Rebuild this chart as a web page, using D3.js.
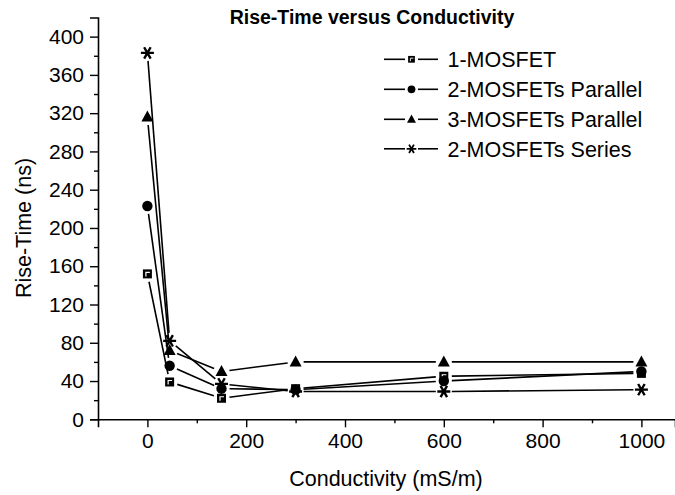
<!DOCTYPE html>
<html><head><meta charset="utf-8">
<script src="https://cdn.jsdelivr.net/npm/d3@7"></script>
<style>body{margin:0;background:#fff}svg{display:block}text{font-family:"Liberation Sans",Arial,sans-serif;fill:#000}</style>
</head><body>
<script>
const conductivity = [0, 45, 150, 300, 600, 1000];
const oneMosfet = [152, 39, 22, 32, 45, 48];
const twoParallel = [223, 56, 32, 31, 40, 50];
const threeParallel = [316, 72, 50, 60, 60, 60];
const twoSeries = [383, 82, 37, 29, 29, 31];
const seriesNames = ["1-MOSFET", "2-MOSFETs Parallel", "3-MOSFETs Parallel", "2-MOSFETs Series"];
const markerTypes = ["square", "circle", "triangle", "star"];
const xTicks = [0, 200, 400, 600, 800, 1000];
const yTicks = [0, 40, 80, 120, 160, 200, 240, 280, 320, 360, 400];

const W = 675, H = 495;
const svg = d3.select("body").append("svg").attr("width", W).attr("height", H);
const x = d3.scaleLinear().domain([-100, 1068]).range([98, 675]);
const y = d3.scaleLinear().domain([0, 420]).range([419.3, 17.5]);

// axes
const xAxis = svg.append("g").attr("transform", `translate(0,${y(0)})`)
  .call(d3.axisBottom(x).tickValues(xTicks).tickSize(8).tickPadding(6).tickFormat(d3.format("d")));
const xMinor = svg.append("g").attr("transform", `translate(0,${y(0)})`)
  .call(d3.axisBottom(x).tickValues(d3.range(100, 1000, 200)).tickSize(4).tickFormat(""));
const yAxis = svg.append("g").attr("transform", `translate(${x(-100)},0)`)
  .call(d3.axisLeft(y).tickValues(yTicks).tickSize(8).tickPadding(6).tickFormat(d3.format("d")));
const yMinor = svg.append("g").attr("transform", `translate(${x(-100)},0)`)
  .call(d3.axisLeft(y).tickValues(d3.range(20, 400, 40)).tickSize(4).tickFormat(""));
[xAxis, xMinor, yAxis, yMinor].forEach(g => {
  g.selectAll("path.domain").attr("stroke", "#000").attr("stroke-width", 1.6);
  g.selectAll(".tick line").attr("stroke", "#000").attr("stroke-width", 1.4);
  g.selectAll(".tick text").attr("font-size", 21).attr("font-family", "Liberation Sans, Arial, sans-serif").attr("fill", "#000");
});
xMinor.select("path.domain").remove();
yMinor.select("path.domain").remove();

// titles
svg.append("text").attr("x", 372).attr("y", 24).attr("text-anchor", "middle")
  .attr("font-size", 19.5).attr("font-weight", "bold").text("Rise-Time versus Conductivity");
svg.append("text").attr("x", 386).attr("y", 486).attr("text-anchor", "middle")
  .attr("font-size", 21.5).text("Conductivity (mS/m)");
svg.append("text").attr("transform", "translate(31,228) rotate(-90)").attr("text-anchor", "middle")
  .attr("font-size", 21.5).text("Rise-Time (ns)");

function drawMarker(g, type, cx, cy) {
  if (type === "square") {
    g.append("rect").attr("x", cx - 4.5).attr("y", cy - 4.5).attr("width", 9).attr("height", 9).attr("fill", "#000");
    g.append("path").attr("d", `M${cx - 1.5},${cy + 2.5}V${cy - 1.5}H${cx + 2.5}`).attr("fill", "none").attr("stroke", "#fff").attr("stroke-width", 1.2);
  } else if (type === "circle") {
    g.append("circle").attr("cx", cx).attr("cy", cy).attr("r", 5.2).attr("fill", "#000");
  } else if (type === "triangle") {
    g.append("path").attr("d", `M${cx},${cy - 6.5}L${cx + 6},${cy + 4.5}L${cx - 6},${cy + 4.5}Z`).attr("fill", "#000");
  } else {
    const r = 6.5;
    const a = Math.PI / 3;
    const d = [0, a, -a].map(t => `M${cx - r * Math.cos(t)},${cy - r * Math.sin(t)}L${cx + r * Math.cos(t)},${cy + r * Math.sin(t)}`).join("");
    g.append("path").attr("d", d).attr("stroke", "#000").attr("stroke-width", 2.4).attr("fill", "none");
  }
}

const allSeries = [oneMosfet, twoParallel, threeParallel, twoSeries];
const gap = 8;
allSeries.forEach((vals, si) => {
  const g = svg.append("g");
  const pts = vals.map((v, i) => [x(conductivity[i]), y(v)]);
  for (let i = 0; i < pts.length - 1; i++) {
    const [x1, y1] = pts[i], [x2, y2] = pts[i + 1];
    const L = Math.hypot(x2 - x1, y2 - y1);
    if (L <= 2 * gap) continue;
    const ux = (x2 - x1) / L, uy = (y2 - y1) / L;
    g.append("line").attr("x1", x1 + ux * gap).attr("y1", y1 + uy * gap)
      .attr("x2", x2 - ux * gap).attr("y2", y2 - uy * gap)
      .attr("stroke", "#000").attr("stroke-width", 1.6);
  }
  pts.forEach(p => drawMarker(g, markerTypes[si], p[0], p[1]));
});

// legend
const legendRows = [59.3, 89.3, 119.3, 148.8];
seriesNames.forEach((name, i) => {
  const g = svg.append("g");
  const cy = legendRows[i];
  g.append("line").attr("x1", 384).attr("x2", 405).attr("y1", cy).attr("y2", cy).attr("stroke", "#000").attr("stroke-width", 1.6);
  g.append("line").attr("x1", 418).attr("x2", 438).attr("y1", cy).attr("y2", cy).attr("stroke", "#000").attr("stroke-width", 1.6);
  const mg = g.append("g").attr("transform", `translate(${411.5},${cy}) scale(0.75) translate(${-411.5},${-cy})`);
  drawMarker(mg, markerTypes[i], 411.5, cy);
  g.append("text").attr("x", 447.5).attr("y", cy + 7.7).attr("font-size", 21.5).text(name);
});
</script>
</body></html>
